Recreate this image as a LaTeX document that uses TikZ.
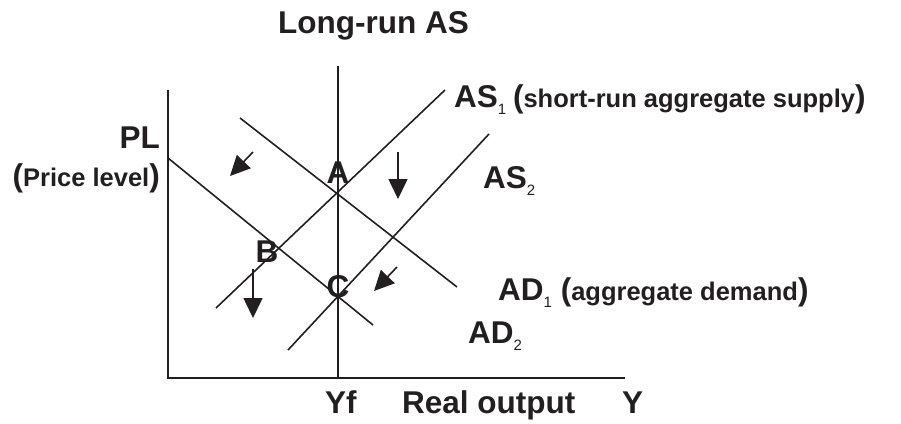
\documentclass[tikz,border=0pt]{standalone}
\usepackage{fontspec}
\setmainfont{Liberation Sans}
\usetikzlibrary{arrows.meta}
\definecolor{ink}{HTML}{231F20}

% small subscript and smaller words in brackets
\newcommand{\lowidx}[1]{\raisebox{-7pt}{\fontsize{15}{15}\selectfont\mdseries #1}}
\newcommand{\smalltxt}[1]{{\fontsize{25.5}{28}\selectfont #1}}

\tikzset{
  curve/.style={ink, line width=1.6pt},
  axis/.style={ink, line width=2pt},
  lbl/.style={ink, font=\bfseries\fontsize{31.5}{36}\selectfont, inner sep=0pt, anchor=base west},
  drift/.style={ink, line width=1.6pt, -{Triangle[length=20pt, width=19pt]}},
}

\begin{document}
\begin{tikzpicture}[x=1pt, y=-1pt]
  \useasboundingbox (0,0) rectangle (901,423);

  % Axes
  \coordinate (ytop) at (168,90);
  \coordinate (origin) at (168,378);
  \coordinate (xend) at (625,378);
  \draw[axis] (ytop) -- (origin) -- (xend);

  % Long-run AS at full employment output
  \coordinate (lras top) at (338,66);
  \coordinate (lras foot) at (338,378);
  \draw[axis] (lras top) -- (lras foot);

  % Aggregate demand curves
  \coordinate (ad1 a) at (240,118);
  \coordinate (ad1 b) at (457,287);
  \draw[curve] (ad1 a) -- (ad1 b);
  \coordinate (ad2 a) at (168,158);
  \coordinate (ad2 b) at (373,325);
  \draw[curve] (ad2 a) -- (ad2 b);

  % Short-run aggregate supply curves
  \coordinate (as1 a) at (216,308);
  \coordinate (as1 b) at (445,90);
  \draw[curve] (as1 a) -- (as1 b);
  \coordinate (as2 a) at (288,350);
  \coordinate (as2 b) at (489,134);
  \draw[curve] (as2 a) -- (as2 b);

  % Shift arrows
  \coordinate (d1 a) at (253,152); \coordinate (d1 b) at (230,176);
  \draw[drift] (d1 a) -- (d1 b);
  \coordinate (d2 a) at (398,152); \coordinate (d2 b) at (398,199);
  \draw[drift] (d2 a) -- (d2 b);
  \coordinate (d3 a) at (253,269); \coordinate (d3 b) at (253,318);
  \draw[drift] (d3 a) -- (d3 b);
  \coordinate (d4 a) at (397,267); \coordinate (d4 b) at (374,291);
  \draw[drift] (d4 a) -- (d4 b);

  % Equilibrium points
  \node[lbl, anchor=base] (ptA) at (338,183) {A};
  \node[lbl, anchor=base] (ptB) at (267,262) {B};
  \node[lbl, anchor=base] (ptC) at (338,297) {C};

  % Title and axis labels
  \node[lbl] (title) at (278,33) {Long-run AS};
  \node[lbl, anchor=base east] (pl) at (160,148) {PL};
  \node[lbl, anchor=base east] (pldesc) at (160,186) {(\smalltxt{Price level})};
  \node[lbl] (yf) at (325,413) {Yf};
  \node[lbl] (realout) at (402,413) {Real output};
  \node[lbl] (ylab) at (622,413) {Y};

  % Curve labels
  \node[lbl] (as1lab) at (454,107) {AS\lowidx{1}\hspace{-2pt} (\smalltxt{short-run aggregate supply})};
  \node[lbl] (as2lab) at (483,188) {AS\lowidx{2}};
  \node[lbl] (ad1lab) at (498,300) {AD\lowidx{1} (\smalltxt{aggregate demand})};
  \node[lbl] (ad2lab) at (468,343) {AD\lowidx{2}};

\end{tikzpicture}
\end{document}
